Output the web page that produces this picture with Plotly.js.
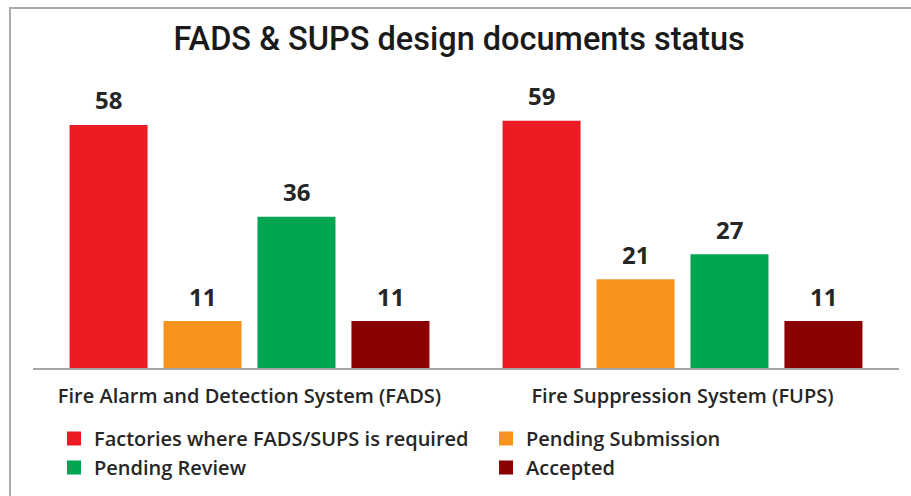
<!DOCTYPE html>
<html>
<head>
<meta charset="utf-8">
<script src="https://cdn.plot.ly/plotly-3.0.1.min.js"></script>
<style>
  html, body { margin: 0; padding: 0; background: #fff; overflow: hidden; }
  #chart { position: absolute; left: 0; top: 0; width: 911px; height: 496px; }
  #frame {
    position: absolute; left: 9px; top: 7px; right: 0; bottom: 0;
    border-left: 2px solid #ababab; border-top: 2px solid #ababab;
    pointer-events: none;
  }
</style>
</head>
<body>
<div id="chart"></div>
<div id="frame"></div>
<script>
const categories = ['Fire Alarm and Detection System (FADS)', 'Fire Suppression System (FUPS)'];
const seriesNames = ['Factories where FADS/SUPS is required', 'Pending Submission', 'Pending Review', 'Accepted'];
const requiredCounts = [58, 59];
const pendingSubmissionCounts = [11, 21];
const pendingReviewCounts = [36, 27];
const acceptedCounts = [11, 11];
const seriesColors = ['#ED1C24', '#F7941D', '#00A651', '#8B0000'];

const seriesValues = [requiredCounts, pendingSubmissionCounts, pendingReviewCounts, acceptedCounts];

const textColor = '#262626';
const slotPx = 94; // width of one bar slot inside a group

const traces = seriesValues.map((vals, i) => ({
    type: 'bar',
    name: seriesNames[i],
    x: categories,
    y: vals,
    marker: { color: seriesColors[i], line: { color: seriesColors[i], width: 2 } },
    hoverinfo: 'x+y+name'
}));

// value labels sit well above the bars, so use annotations instead of bar text
const annotations = [];
seriesValues.forEach((vals, i) => {
    vals.forEach((v, j) => {
        annotations.push({
            x: categories[j],
            y: v,
            text: String(v),
            showarrow: false,
            xshift: (i - 1.5) * slotPx,
            yshift: 26,
            yanchor: 'middle',
            font: { family: 'Open Sans, sans-serif', size: 24, weight: 700, color: textColor }
        });
    });
});

const layout = {
    width: 911,
    height: 496,
    margin: { t: 78, r: 12, b: 128, l: 33, autoexpand: false },
    paper_bgcolor: '#fff',
    plot_bgcolor: '#fff',
    title: {
        text: 'FADS & SUPS design documents status',
        x: 0.504,
        xref: 'container',
        xanchor: 'center',
        y: 0.923,
        yref: 'container',
        yanchor: 'middle',
        font: { family: 'Roboto, sans-serif', size: 32.5, weight: 500, color: '#1a1a1a' }
    },
    barmode: 'group',
    bargap: 0.132,
    bargroupgap: 0.191,
    xaxis: {
        showline: true,
        linecolor: '#a6a6a6',
        linewidth: 1.5,
        ticks: 'outside',
        ticklen: 9,
        tickcolor: 'rgba(0,0,0,0)',
        tickfont: { family: 'Open Sans, sans-serif', size: 20, weight: 600, color: textColor },
        fixedrange: true
    },
    yaxis: {
        visible: false,
        range: [0, 69.5],
        showgrid: false,
        zeroline: false,
        fixedrange: true
    },
    showlegend: true,
    legend: {
        orientation: 'h',
        xref: 'container',
        x: 0.0593,
        xanchor: 'left',
        yref: 'container',
        y: 0.155,
        yanchor: 'top',
        entrywidth: 387,
        entrywidthmode: 'pixels',
        traceorder: 'normal',
        font: { family: 'Open Sans, sans-serif', size: 20, weight: 600, color: textColor }
    },
    annotations: annotations
};

Plotly.newPlot('chart', traces, layout, { displayModeBar: false, staticPlot: false });
</script>
</body>
</html>
